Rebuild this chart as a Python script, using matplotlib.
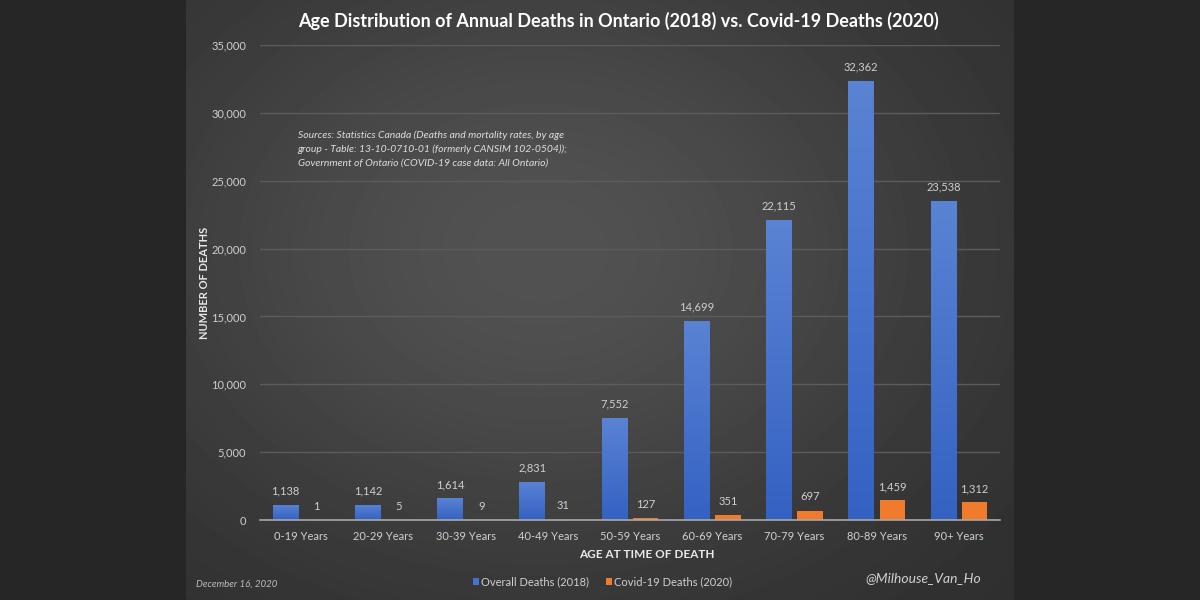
import numpy as np
import matplotlib

matplotlib.use("Agg")
import matplotlib.pyplot as plt
from matplotlib.colors import LinearSegmentedColormap
from matplotlib.ticker import FuncFormatter, MultipleLocator

plt.rcParams["font.family"] = ["Lato", "DejaVu Sans"]

AGE_GROUPS = ["0-19 Years", "20-29 Years", "30-39 Years", "40-49 Years", "50-59 Years",
              "60-69 Years", "70-79 Years", "80-89 Years", "90+ Years"]
OVERALL_2018 = [1138, 1142, 1614, 2831, 7552, 14699, 22115, 32362, 23538]
COVID_2020 = [1, 5, 9, 31, 127, 351, 697, 1459, 1312]

BLUE = "#4472cc"
ORANGE = "#f07b2c"
TEXT = "#cfcfcf"

fig = plt.figure(figsize=(12, 6), dpi=100)
fig.patch.set_facecolor("#262626")

# background: dark frame with a soft radial glow on the central panel
bg = fig.add_axes([0, 0, 1, 1], zorder=-10)
bg.set_axis_off()
h, w = 600, 1200
yy, xx = np.mgrid[0:h, 0:w]
d2 = ((xx - 540) / 430.0) ** 2 + ((yy - 250) / 330.0) ** 2
level = 0.17 + 0.15 * np.exp(-d2)
panel = (xx > 185) & (xx < 1014)
img = np.where(panel, level, 0.15)
bg.imshow(img, cmap="gray", vmin=0, vmax=1, extent=[0, 1, 0, 1], aspect="auto",
          interpolation="bilinear")
bg.set_xlim(0, 1)
bg.set_ylim(0, 1)

ax = fig.add_axes([0.2167, 0.1333, 0.6167, 0.7917])
ax.set_facecolor("none")

x = np.arange(len(AGE_GROUPS))
bw = 0.31
off = 0.19
b1 = ax.bar(x - off, OVERALL_2018, bw, color=BLUE, label="Overall Deaths (2018)", zorder=3)
b2 = ax.bar(x + off, COVID_2020, bw, color=ORANGE, label="Covid-19 Deaths (2020)", zorder=3)

# vertical gradient on the blue bars (darker at the base, lighter at the top)
grad_cmap = LinearSegmentedColormap.from_list("bluegrad", ["#3462c3", "#5a83d3"])
grad = np.linspace(0, 1, 256).reshape(-1, 1)
for rect in b1:
    x0, w0, h0 = rect.get_x(), rect.get_width(), rect.get_height()
    im = ax.imshow(grad, cmap=grad_cmap, origin="lower", aspect="auto",
                   extent=[x0, x0 + w0, 0, h0], zorder=3.5)
    im.set_clip_path(rect)

for rect, v in zip(b1, OVERALL_2018):
    ax.text(rect.get_x() + rect.get_width() / 2, v + 600, f"{v:,}", ha="center", va="bottom",
            color=TEXT, fontsize=8)
for rect, v in zip(b2, COVID_2020):
    ax.text(rect.get_x() + rect.get_width() / 2, v + 600, f"{v:,}", ha="center", va="bottom",
            color=TEXT, fontsize=8)

ax.set_xlim(-0.5, len(AGE_GROUPS) - 0.5)
ax.set_ylim(0, 35000)
ax.yaxis.set_major_locator(MultipleLocator(5000))
ax.yaxis.set_major_formatter(FuncFormatter(lambda v, _: f"{int(v):,}"))
ax.set_xticks(x)
ax.set_xticklabels(AGE_GROUPS)
ax.tick_params(axis="both", length=0, colors=TEXT, labelsize=8)
ax.tick_params(axis="y", pad=10)
ax.tick_params(axis="x", pad=8)
ax.grid(axis="y", color="#5c5c5c", linewidth=1, zorder=0)
for side in ("top", "right", "left"):
    ax.spines[side].set_visible(False)
ax.spines["bottom"].set_color("#a8a8a8")
ax.spines["bottom"].set_linewidth(1.2)
ax.spines["bottom"].set_zorder(4)

ax.set_ylabel("NUMBER OF DEATHS", color="#e8e8e8", fontsize=8, fontweight="bold")
ax.yaxis.set_label_coords(-0.068, 0.5)
ax.set_xlabel("AGE AT TIME OF DEATH", color="#e8e8e8", fontsize=8.5, fontweight="bold")
ax.xaxis.set_label_coords(0.522, -0.062)

fig.text(0.515, 0.965, "Age Distribution of Annual Deaths in Ontario (2018) vs. Covid-19 Deaths (2020)",
         ha="center", va="center", color="white", fontsize=13, fontweight="bold")

fig.text(0.248, 0.783,
         "Sources: Statistics Canada (Deaths and mortality rates, by age\n"
         "group - Table: 13-10-0710-01 (formerly CANSIM 102-0504));\n"
         "Government of Ontario (COVID-19 case data: All Ontario)",
         ha="left", va="top", color="#dddddd", fontsize=7.5, style="italic", linespacing=1.65)

fig.text(0.163, 0.027, "December 16, 2020", ha="left", va="center", color="#bbbbbb",
         fontsize=7, style="italic")
fig.text(0.769, 0.037, "@Milhouse_Van_Ho", ha="center", va="center", color="#d0d0d0",
         fontsize=10, style="italic")

leg = fig.legend(handles=[b1, b2], loc="center", bbox_to_anchor=(0.502, 0.03), ncol=2,
                 frameon=False, fontsize=8, handlelength=0.55, handleheight=0.55,
                 handletextpad=0.2, columnspacing=1.5)
for t in leg.get_texts():
    t.set_color(TEXT)

fig.savefig("out.png", dpi=100, facecolor=fig.get_facecolor())
